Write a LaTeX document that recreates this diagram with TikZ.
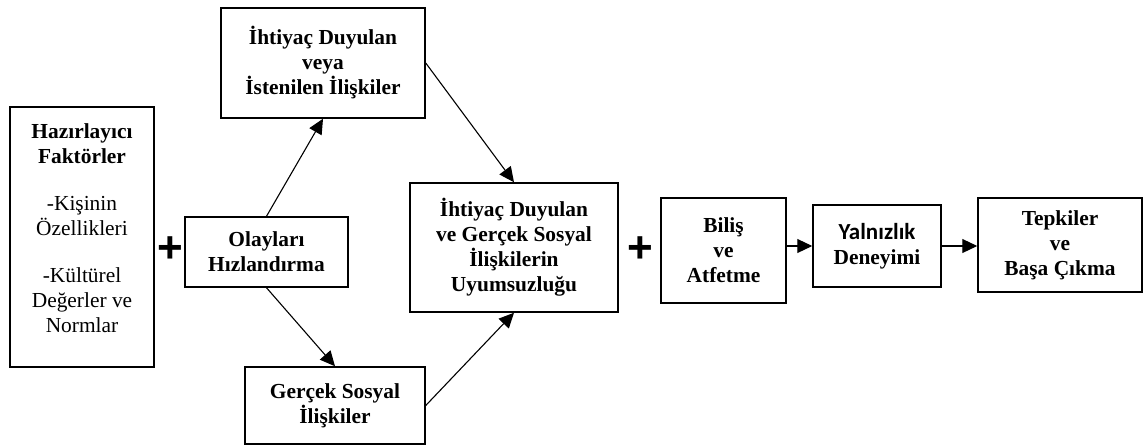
\documentclass[tikz,border=0pt]{standalone}
\usepackage{fontspec}
\setmainfont{Liberation Serif}
\newfontfamily\calfont{Carlito}
\newfontfamily\plusfont{Liberation Sans}
\usetikzlibrary{arrows.meta}

\begin{document}
\begin{tikzpicture}[x=0.5pt, y=-0.5pt,
  box/.style = {draw, line width=0.75pt, align=center, inner sep=2pt, font=\fontsize{10.7}{12.5}\selectfont\bfseries},
  link/.style = {-{Triangle[length=7.5pt, width=7pt]}, line width=0.55pt},
  plus/.style = {inner sep=0pt, font=\fontsize{22}{22}\selectfont\plusfont\bfseries}]
  \useasboundingbox (0,0) rectangle (1148,445);
  % boxes
  \node[box, minimum width=72pt, minimum height=130pt, font=\fontsize{10.7}{12.5}\selectfont] (prep) at (82,237)
    {\textbf{Hazırlayıcı}\\\textbf{Faktörler}\\[11pt]-Kişinin\\Özellikleri\\[11pt]-Kültürel\\Değerler ve\\Normlar\\[-3.5pt]\mbox{}};
  \node[plus] (plusa) at (170,250) {+};
  \node[box, minimum width=81.5pt, minimum height=35pt] (event) at (266.5,252) {Olayları\\Hızlandırma};
  \node[box, minimum width=102pt, minimum height=55pt] (need) at (323,63) {İhtiyaç Duyulan\\veya\\İstenilen İlişkiler};
  \node[box, minimum width=90pt, minimum height=38.5pt] (real) at (335,405.5) {Gerçek Sosyal\\İlişkiler};
  \node[box, minimum width=104pt, minimum height=64.5pt] (gap) at (514,247.5) {İhtiyaç Duyulan\\ve Gerçek Sosyal\\İlişkilerin\\Uyumsuzluğu};
  \node[plus] (plusb) at (640,250) {+};
  \node[box, minimum width=62.5pt, minimum height=52.5pt] (cog) at (723.5,250.5) {Biliş\\ve\\Atfetme};
  \node[box, minimum width=64pt, minimum height=41pt] (lonely) at (877,246) {{\calfont\fontsize{11.5}{12.5}\selectfont Yalnızlık}\\Deneyimi};
  \node[box, minimum width=82pt, minimum height=47pt] (react) at (1060,245) {Tepkiler\\ve\\Başa Çıkma};
  % arrows
  \draw[link] (event.north) -- (need.south);
  \draw[link] (event.south) -- (real.north);
  \draw[link] (need.east) -- (gap.north);
  \draw[link] (real.east) -- (gap.south);
  \draw[link] (cog.east |- lonely.west) -- (lonely.west);
  \draw[link] (lonely.east) -- (lonely.east -| react.west);
\end{tikzpicture}
\end{document}
